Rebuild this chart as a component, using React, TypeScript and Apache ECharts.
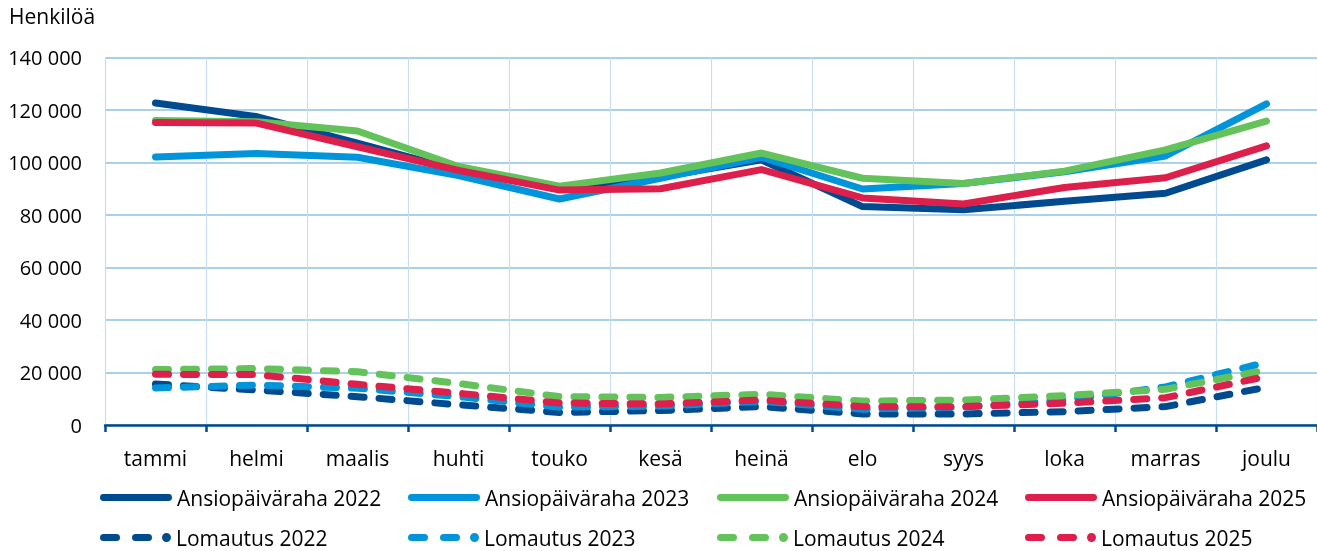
import React, { useEffect, useRef } from "react";
import * as echarts from "echarts";

const months = ["tammi", "helmi", "maalis", "huhti", "touko", "kesä", "heinä", "elo", "syys", "loka", "marras", "joulu"];

const ansio2022 = [122700, 117500, 107400, 97000, 90000, 94500, 101000, 83200, 82000, 85200, 88300, 101000];
const ansio2023 = [102100, 103400, 102000, 95000, 86100, 94000, 102000, 89900, 92000, 96500, 102500, 122300];
const ansio2024 = [116000, 115500, 112000, 98500, 91000, 96000, 103600, 94000, 92000, 96700, 104800, 115800];
const ansio2025 = [115200, 115000, 106000, 97000, 89500, 90000, 97300, 86500, 84200, 90500, 94200, 106300];

const lom2022 = [15600, 13300, 10800, 7700, 4800, 5500, 7000, 4200, 4200, 5100, 7000, 14400];
const lom2023 = [14100, 15200, 14000, 10800, 6800, 7200, 9000, 6000, 6800, 9500, 14500, 23900];
const lom2024 = [21100, 21500, 20300, 15800, 10800, 10500, 11700, 9100, 9500, 11200, 13600, 21000];
const lom2025 = [19300, 19200, 15500, 12100, 8400, 8000, 9500, 7000, 7000, 8300, 10400, 18500];

const names = [
  "Ansiopäiväraha 2022", "Ansiopäiväraha 2023", "Ansiopäiväraha 2024", "Ansiopäiväraha 2025",
  "Lomautus 2022", "Lomautus 2023", "Lomautus 2024", "Lomautus 2025",
];
const colors = ["#004a8f", "#0095da", "#64c25a", "#dc1f4b"];

const FONT = "Open Sans";

const SOLID_ICON =
  "path://M3.5,0 H69 A3.5,3.5 0 0 1 69,7 H3.5 A3.5,3.5 0 0 1 3.5,0 Z";
const DASH_ICON =
  "path://M4.5,1 H17.5 A3.5,3.5 0 0 1 17.5,8 H4.5 A3.5,3.5 0 0 1 4.5,1 Z " +
  "M36.5,1 H49.5 A3.5,3.5 0 0 1 49.5,8 H36.5 A3.5,3.5 0 0 1 36.5,1 Z " +
  "M63,4.5 A4.5,4.5 0 1 1 72,4.5 A4.5,4.5 0 1 1 63,4.5 Z " +
  "M1,4.5 A3.5,3.5 0 0 1 4.5,1 L4.5,8 A3.5,3.5 0 0 1 1,4.5 Z";

export default function App() {
  const ref = useRef<HTMLDivElement>(null);
  useEffect(() => {
    const chart = echarts.init(ref.current!, null, { renderer: "svg" });
    const allData = [ansio2022, ansio2023, ansio2024, ansio2025, lom2022, lom2023, lom2024, lom2025];
    const series = allData.map((d, i) => ({
      name: names[i],
      type: "line",
      data: d,
      symbol: "none",
      showSymbol: false,
      color: colors[i % 4],
      itemStyle: { color: colors[i % 4], borderWidth: 0 },
      lineStyle: {
        width: 7,
        color: colors[i % 4],
        cap: "round",
        join: "round",
        type: i < 4 ? "solid" : [13, 15],
      },
    }));
    const legendX = [100, 408, 717, 1025];
    const legends = names.map((n, i) => ({
      data: [n],
      left: legendX[i % 4],
      top: i < 4 ? 487 : 527,
      icon: i < 4 ? SOLID_ICON : DASH_ICON,
      itemWidth: i < 4 ? 72 : 71,
      itemHeight: i < 4 ? 7 : 9,
      itemGap: 0,
      padding: 0,
      itemStyle: { borderWidth: 0 },
      lineStyle: { width: 0 },
      textStyle: { fontFamily: FONT, fontSize: 21, color: "#000", padding: [0, 0, 0, 0] },
    }));
    chart.setOption({
      animation: false,
      textStyle: { fontFamily: FONT },
      title: {
        text: "Henkilöä",
        left: 9,
        top: 5,
        padding: 0,
        textStyle: { fontFamily: FONT, fontSize: 21, fontWeight: "normal", color: "#000" },
      },
      legend: legends,
      grid: { left: 105, right: -8, top: 57.5, bottom: 126, containLabel: false },
      xAxis: {
        type: "category",
        data: months,
        boundaryGap: true,
        axisLine: { show: true, lineStyle: { color: "#004a8f", width: 2.5 } },
        axisTick: { show: true, length: 7, lineStyle: { color: "#004a8f", width: 2.5 } },
        axisLabel: { fontFamily: FONT, fontSize: 21, color: "#000", margin: 22 },
        splitLine: { show: true, lineStyle: { color: "#c8def0", width: 1.2 } },
      },
      yAxis: {
        type: "value",
        min: 0,
        max: 140000,
        interval: 20000,
        axisLine: { show: false },
        axisTick: { show: false },
        axisLabel: {
          fontFamily: FONT,
          fontSize: 20,
          color: "#000",
          margin: 23,
          formatter: (v: number) => String(v).replace(/\B(?=(\d{3})+(?!\d))/g, " "),
        },
        splitLine: { show: true, lineStyle: { color: "#8fc0e3", width: 1.5 } },
      },
      series,
    });
    return () => chart.dispose();
  }, []);
  return <div ref={ref} style={{ position: "fixed", left: 0, top: 0, width: 1317, height: 551 }} />;
}
